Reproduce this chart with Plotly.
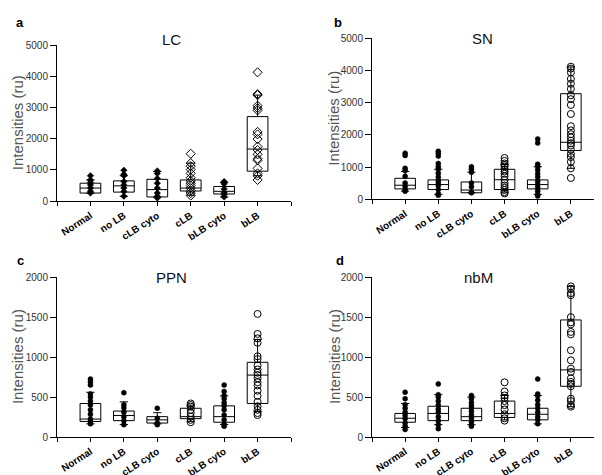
import plotly.graph_objects as go

categories = ["Normal", "no LB", "cLB cyto", "cLB", "bLB cyto", "bLB"]

# ---- Panel a: LC ----
LC_q1 = [260, 290, 135, 325, 230, 960]
LC_med = [420, 490, 370, 420, 315, 1670]
LC_q3 = [575, 650, 700, 680, 470, 2710]
LC_lo = [250, 160, 125, 190, 135, 815]
LC_hi = [680, 815, 950, 1220, 600, 3400]
LC_pts = [
    [815, 680, 600, 520, 420, 315, 260],
    [990, 860, 815, 630, 520, 420, 310, 160],
    [970, 890, 730, 575, 420, 260, 160, 100],
    [1520, 1220, 1120, 1010, 890, 750, 650, 575, 500, 420, 335, 260, 180],
    [630, 555, 390, 280, 210, 135],
    [4130, 3430, 3400, 3060, 2980, 2910, 2220, 2140, 1990, 1750, 1640, 1500,
     1360, 1310, 1050, 890, 815, 680],
]

# ---- Panel b: SN ----
SN_q1 = [320, 300, 200, 300, 320, 1515]
SN_med = [435, 455, 285, 605, 455, 1770]
SN_q3 = [650, 600, 535, 930, 600, 3280]
SN_lo = [250, 150, 200, 220, 150, 960]
SN_hi = [860, 930, 840, 1080, 1010, 4110]
SN_pts = [
    [1430, 1360, 960, 890, 710, 505, 400, 300, 250],
    [1490, 1430, 1340, 1110, 1010, 930, 810, 690, 585, 505, 425, 300, 170, 120],
    [1010, 930, 840, 505, 385, 220, 200],
    [1280, 1190, 1110, 1060, 1010, 930, 860, 790, 710, 605, 505, 425, 355, 285, 220, 180],
    [1870, 1750, 1090, 1010, 910, 790, 690, 555, 455, 355, 250, 150, 100],
    [4120, 4060, 3940, 3740, 3590, 3430, 3230, 3110, 2930, 2650, 2270, 2140,
     2020, 1920, 1820, 1740, 1670, 1540, 1410, 1310, 1160, 960, 660],
]

# ---- Panel c: PPN ----
PPN_q1 = [195, 205, 175, 230, 185, 420]
PPN_med = [225, 270, 215, 255, 255, 775]
PPN_q3 = [420, 325, 255, 360, 390, 935]
PPN_lo = [165, 155, 165, 195, 155, 320]
PPN_hi = [560, 440, 305, 400, 515, 1220]
PPN_pts = [
    [725, 690, 650, 540, 500, 450, 400, 340, 285, 225, 195, 165],
    [555, 405, 365, 310, 255, 205, 155],
    [360, 235, 175, 155],
    [420, 400, 380, 340, 300, 255, 215, 185],
    [650, 570, 515, 480, 430, 390, 340, 275, 215, 165, 135],
    [1540, 1290, 1235, 1180, 1010, 975, 895, 845, 805, 775, 735, 685, 645,
     580, 515, 440, 385, 340, 300, 275],
]

# ---- Panel d: nbM ----
NBM_q1 = [185, 205, 205, 245, 215, 635]
NBM_med = [235, 295, 255, 295, 285, 840]
NBM_q3 = [295, 385, 360, 450, 360, 1465]
NBM_lo = [120, 155, 155, 215, 165, 380]
NBM_hi = [420, 530, 500, 520, 520, 1885]
NBM_pts = [
    [560, 480, 405, 360, 310, 270, 230, 175, 135, 95],
    [665, 530, 500, 450, 400, 350, 310, 255, 205, 155, 105],
    [520, 480, 430, 390, 360, 320, 275, 235, 195, 155, 135],
    [685, 570, 520, 490, 450, 400, 345, 285, 235, 205],
    [725, 540, 515, 460, 405, 360, 310, 255, 215, 165],
    [1885, 1855, 1800, 1775, 1500, 1435, 1410, 1315, 1285, 1085, 960, 855,
     815, 735, 690, 665, 635, 480, 450, 400, 380],
]

panel_titles = ["LC", "SN", "PPN", "nbM"]
panel_letters = ["a", "b", "c", "d"]
y_ticks_top = [0, 1000, 2000, 3000, 4000, 5000]
y_ticks_bottom = [0, 500, 1000, 1500, 2000]
open_groups = [3, 5]

W, H = 602, 475
FONT = "Arial, Liberation Sans, sans-serif"

def px_x(p):
    return p / W

def px_y(p):
    return 1 - p / H

panels = [
    dict(q1=LC_q1, med=LC_med, q3=LC_q3, lo=LC_lo, hi=LC_hi, pts=LC_pts,
         xd=(49, 283), yd=(32, 192), yt=y_ticks_top, sym="diamond",
         title_xy=(163, 26), letter_xy=(12, 9), ytitle_x=9),
    dict(q1=SN_q1, med=SN_med, q3=SN_q3, lo=SN_lo, hi=SN_hi, pts=SN_pts,
         xd=(364, 596), yd=(25, 190), yt=y_ticks_top, sym="circle",
         title_xy=(474, 25), letter_xy=(330, 9), ytitle_x=326),
    dict(q1=PPN_q1, med=PPN_med, q3=PPN_q3, lo=PPN_lo, hi=PPN_hi, pts=PPN_pts,
         xd=(49, 283), yd=(270, 434), yt=y_ticks_bottom, sym="circle",
         title_xy=(163, 270), letter_xy=(12, 253), ytitle_x=9),
    dict(q1=NBM_q1, med=NBM_med, q3=NBM_q3, lo=NBM_lo, hi=NBM_hi, pts=NBM_pts,
         xd=(364, 596), yd=(270, 434), yt=y_ticks_bottom, sym="circle",
         title_xy=(470, 270), letter_xy=(332, 253), ytitle_x=326),
]

fig = go.Figure()
annotations = []
xpos = list(range(len(categories)))

for i, p in enumerate(panels):
    ax = "" if i == 0 else str(i + 1)
    xref, yref = "x" + ax, "y" + ax
    fig.add_trace(go.Box(
        x=xpos, q1=p["q1"], median=p["med"], q3=p["q3"],
        lowerfence=p["lo"], upperfence=p["hi"],
        xaxis=xref, yaxis=yref, width=0.62, whiskerwidth=0.4,
        fillcolor="white", line=dict(color="black", width=1),
        boxpoints=False, showlegend=False, hoverinfo="skip",
    ))
    fx, fy, ox, oy = [], [], [], []
    for g, vals in enumerate(p["pts"]):
        if g in open_groups:
            ox += [g] * len(vals)
            oy += vals
        else:
            fx += [g] * len(vals)
            fy += vals
    fig.add_trace(go.Scatter(
        x=fx, y=fy, mode="markers", xaxis=xref, yaxis=yref, showlegend=False,
        marker=dict(symbol=p["sym"], size=5, color="black",
                    line=dict(color="black", width=0.5)),
    ))
    fig.add_trace(go.Scatter(
        x=ox, y=oy, mode="markers", xaxis=xref, yaxis=yref, showlegend=False,
        marker=dict(symbol=p["sym"] + "-open", size=7, color="black",
                    line=dict(color="black", width=1)),
    ))
    xa = dict(
        domain=[px_x(p["xd"][0]), px_x(p["xd"][1])], range=[-1, 6],
        tickvals=[-1] + xpos + [6], ticktext=[""] + categories + [""],
        tickangle=-33,
        ticks="outside", ticklen=4, tickcolor="black",
        showline=True, linecolor="black", linewidth=1, showgrid=False,
        zeroline=False, anchor=yref,
        tickfont=dict(family=FONT, size=10, color="black", weight="bold"),
    )
    ya = dict(
        domain=[px_y(p["yd"][1]), px_y(p["yd"][0])],
        range=[0, p["yt"][-1]], tickvals=p["yt"],
        ticks="outside", ticklen=6, tickcolor="black",
        showline=True, linecolor="black", linewidth=1, showgrid=False,
        zeroline=False, anchor=xref,
        tickfont=dict(family=FONT, size=10, color="#333"),
    )
    fig.update_layout(**{"xaxis" + ax: xa, "yaxis" + ax: ya})
    annotations.append(dict(
        text=panel_titles[i], xref="paper", yref="paper",
        x=px_x(p["title_xy"][0]), y=px_y(p["title_xy"][1]),
        xanchor="center", yanchor="middle", showarrow=False,
        font=dict(family=FONT, size=15, color="#111"),
    ))
    annotations.append(dict(
        text="<b>" + panel_letters[i] + "</b>", xref="paper", yref="paper",
        x=px_x(p["letter_xy"][0]), y=px_y(p["letter_xy"][1]),
        xanchor="center", yanchor="middle", showarrow=False,
        font=dict(family=FONT, size=13, color="black"),
    ))
    annotations.append(dict(
        text="Intensities (ru)", xref="paper", yref="paper",
        x=px_x(p["ytitle_x"]), y=px_y((p["yd"][0] + p["yd"][1]) / 2),
        xanchor="center", yanchor="middle", showarrow=False, textangle=-90,
        font=dict(family=FONT, size=15, color="#555"),
    ))

fig.update_layout(
    width=W, height=H, margin=dict(l=0, r=0, t=0, b=0),
    paper_bgcolor="white", plot_bgcolor="white",
    annotations=annotations, showlegend=False,
)

fig.write_html("out.html")
